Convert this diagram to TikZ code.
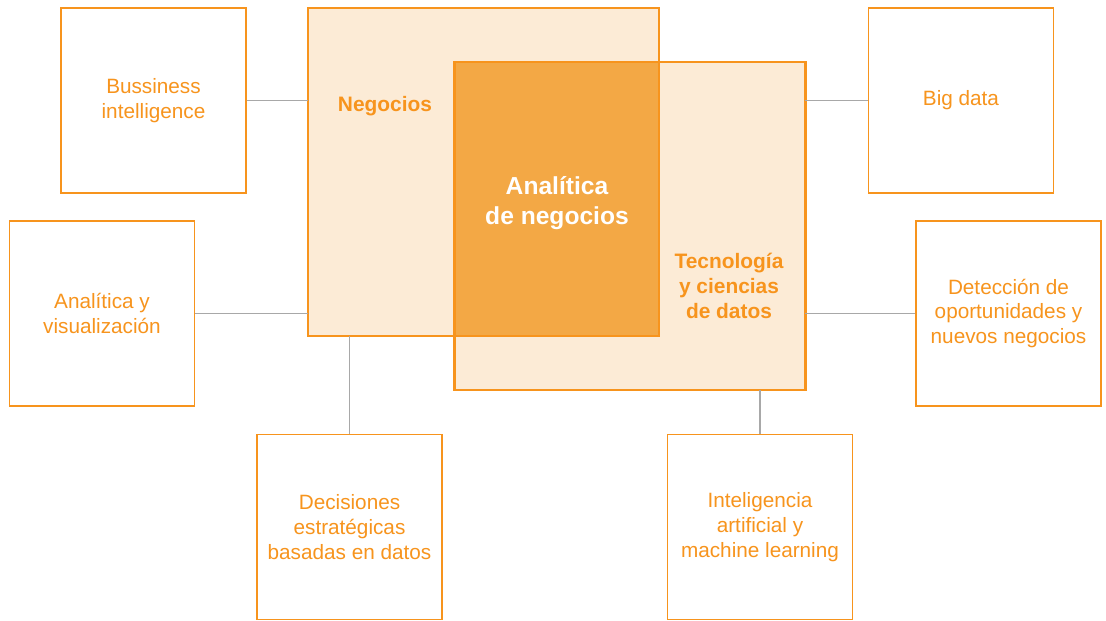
\documentclass[tikz,border=0pt]{standalone}
\usepackage{fontspec}
\setmainfont{Liberation Sans}
\definecolor{naranja}{HTML}{F7941D}
\definecolor{crema}{HTML}{FCEBD6}
\definecolor{ocre}{HTML}{F3A845}
\definecolor{gris}{HTML}{A8A8A8}

\begin{document}
\begin{tikzpicture}[x=0.02cm, y=-0.02cm,
	caja/.style={draw=naranja, line width=0.8pt, fill=white, minimum width=3.7cm, minimum height=3.7cm, align=center, text=naranja, font=\fontsize{11.8}{14.2}\selectfont},
	bloque/.style={fill=crema, minimum width=7.02cm, minimum height=6.56cm, inner sep=0pt, outer sep=0pt},
	borde/.style={draw=naranja, line width=1.5pt},
	enlace/.style={draw=gris, line width=0.7pt},
	etiqueta/.style={align=center, text=naranja, font=\bfseries\fontsize{11.9}{14.2}\selectfont},
	central/.style={align=center, text=white, font=\bfseries\fontsize{14}{17}\selectfont}]
	\useasboundingbox (0, 0) rectangle (1106, 620);
	%%
	\node[bloque] (neg) at (483.5, 172) {};
	\node[bloque] (tec) at (630, 226) {};
	\fill[ocre] (tec.north west) rectangle (neg.south east);
	\draw[borde] (neg.north west) rectangle (neg.south east);
	\draw[borde] (tec.north west) rectangle (tec.south east);
	%%
	\node[etiqueta] (tneg) at (385, 106) {Negocios};
	\node[central] (tana) at (557, 203) {Analítica\\de negocios};
	\node[etiqueta] (ttec) at (729, 286) {Tecnología\\y ciencias\\de datos};
	%%
	\node[caja] (bi) at (153.5, 100.5) {Bussiness\\intelligence};
	\node[caja] (vis) at (102, 313.5) {Analítica y\\visualización};
	\node[caja] (dec) at (349.5, 527) {Decisiones\\estratégicas\\basadas en datos};
	\node[caja] (bd) at (961, 100.5) {Big data};
	\node[caja] (det) at (1008.5, 313.5) {Detección de\\oportunidades y\\nuevos negocios};
	\node[caja] (ia) at (760, 527) {Inteligencia\\artificial y\\machine learning};
	%%
	\draw[enlace] (bi.east) -- (bi.east -| neg.west);
	\draw[enlace] (vis.east) -- (vis.east -| neg.west);
	\draw[enlace] (dec.north) -- (dec.north |- neg.south);
	\draw[enlace] (bd.west) -- (bd.west -| tec.east);
	\draw[enlace] (det.west) -- (det.west -| tec.east);
	\draw[enlace] (ia.north) -- (ia.north |- tec.south);
\end{tikzpicture}
\end{document}
